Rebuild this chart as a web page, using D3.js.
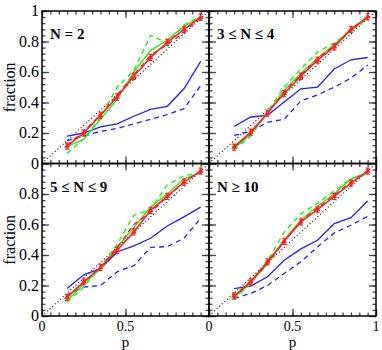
<!DOCTYPE html>
<html>
<head>
<meta charset="utf-8">
<script src="https://cdn.jsdelivr.net/npm/d3@7"></script>
<style>
  body { margin: 0; background: #fff; }
  svg text { font-family: "Liberation Serif", "DejaVu Serif", serif; }
</style>
</head>
<body>
<div id="chart"></div>
<script>
// bin centres of p
const pValues = [0.15, 0.25, 0.35, 0.45, 0.55, 0.65, 0.75, 0.85, 0.95];
const panelLabels = ["N = 2", "3 \u2264 N \u2264 4", "5 \u2264 N \u2264 9", "N \u2265 10"];

// one row per panel
const redSolid = [
  [0.114, 0.200, 0.316, 0.436, 0.572, 0.695, 0.794, 0.880, 0.959],
  [0.107, 0.206, 0.330, 0.460, 0.572, 0.678, 0.765, 0.880, 0.962],
  [0.122, 0.224, 0.318, 0.431, 0.551, 0.693, 0.784, 0.878, 0.950],
  [0.131, 0.224, 0.355, 0.490, 0.617, 0.697, 0.784, 0.871, 0.950]
];
const redDashed = [
  [0.120, 0.210, 0.320, 0.450, 0.580, 0.710, 0.780, 0.860, 0.960],
  [0.110, 0.200, 0.330, 0.470, 0.580, 0.690, 0.770, 0.870, 0.960],
  [0.120, 0.220, 0.320, 0.450, 0.600, 0.680, 0.780, 0.880, 0.950],
  [0.130, 0.230, 0.340, 0.490, 0.620, 0.710, 0.790, 0.880, 0.950]
];
const greenSolid = [
  [0.110, 0.160, 0.290, 0.420, 0.600, 0.740, 0.810, 0.900, 0.960],
  [0.100, 0.190, 0.330, 0.480, 0.590, 0.690, 0.780, 0.880, 0.960],
  [0.100, 0.210, 0.310, 0.450, 0.580, 0.714, 0.800, 0.900, 0.940],
  [0.120, 0.220, 0.340, 0.500, 0.630, 0.720, 0.800, 0.900, 0.940]
];
const greenDashed = [
  [0.066, 0.160, 0.300, 0.500, 0.610, 0.840, 0.790, 0.910, 0.960],
  [0.090, 0.180, 0.340, 0.500, 0.620, 0.730, 0.790, 0.870, 0.950],
  [0.090, 0.190, 0.320, 0.470, 0.660, 0.700, 0.860, 0.920, 0.940],
  [0.110, 0.210, 0.360, 0.550, 0.670, 0.740, 0.820, 0.900, 0.930]
];
const blueSolid = [
  [0.180, 0.200, 0.240, 0.260, 0.310, 0.355, 0.375, 0.490, 0.670],
  [0.243, 0.305, 0.316, 0.403, 0.490, 0.500, 0.620, 0.680, 0.695],
  [0.180, 0.270, 0.310, 0.420, 0.460, 0.510, 0.590, 0.650, 0.714],
  [0.180, 0.196, 0.257, 0.366, 0.440, 0.497, 0.606, 0.645, 0.754]
];
const blueDashed = [
  [0.150, 0.180, 0.210, 0.230, 0.260, 0.290, 0.320, 0.360, 0.510],
  [0.184, 0.210, 0.270, 0.290, 0.410, 0.450, 0.500, 0.560, 0.645],
  [0.137, 0.190, 0.200, 0.290, 0.330, 0.450, 0.455, 0.510, 0.640],
  [0.115, 0.148, 0.200, 0.279, 0.355, 0.453, 0.545, 0.595, 0.654]
];
const xMajor = [0, 0.5, 1];
const yMajor = [0, 0.2, 0.4, 0.6, 0.8, 1];

const W = 382, H = 350;
const padLeft = 42, padTop = 11, pw = 167, ph = 152.5;

const svg = d3.select("#chart").append("svg")
  .attr("width", W).attr("height", H);

const series = [
  { data: blueDashed, color: "#1f1fff", dash: "5,4", width: 1.3 },
  { data: blueSolid, color: "#1f1fff", dash: null, width: 1.3 },
  { data: greenDashed, color: "#22ee22", dash: "5,4", width: 1.4 },
  { data: greenSolid, color: "#22ee22", dash: null, width: 1.4 },
  { data: redDashed, color: "#ff2020", dash: "5,4", width: 1.4 },
  { data: redSolid, color: "#ff2020", dash: null, width: 1.6 }
];

panelLabels.forEach(function(label, k) {
  let col = k % 2, row = Math.floor(k / 2);
  let x0 = padLeft + col * pw, y0 = padTop + row * ph;
  let x = d3.scaleLinear().domain([0, 1]).range([x0, x0 + pw]);
  let y = d3.scaleLinear().domain([0, 1]).range([y0 + ph, y0]);
  let g = svg.append("g");

  // diagonal
  g.append("path")
    .attr("d", d3.line()([[x(0), y(0)], [x(1), y(1)]]))
    .attr("stroke", "#000").attr("stroke-width", 1.1)
    .attr("stroke-dasharray", "1,2.5").attr("fill", "none");

  let line = d3.line()
    .x(function(d, i) { return x(pValues[i]); })
    .y(function(d) { return y(d); });

  series.forEach(function(s) {
    g.append("path")
      .attr("d", line(s.data[k]))
      .attr("fill", "none")
      .attr("stroke", s.color)
      .attr("stroke-width", s.width)
      .attr("stroke-dasharray", s.dash);
  });

  // red error bars + markers
  let err = g.selectAll("g.err").data(redSolid[k]).enter().append("g");
  err.append("path")
    .attr("d", function(d, i) {
      let px = x(pValues[i]);
      return "M" + (px - 2) + "," + y(d + 0.02) + "H" + (px + 2) +
             "M" + px + "," + y(d + 0.02) + "V" + y(d - 0.02) +
             "M" + (px - 2) + "," + y(d - 0.02) + "H" + (px + 2);
    })
    .attr("stroke", "#ff2020").attr("stroke-width", 1.2).attr("fill", "none");
  err.append("path")
    .attr("d", d3.symbol().type(d3.symbolTriangle).size(14))
    .attr("transform", function(d, i) { return "translate(" + x(pValues[i]) + "," + y(d) + ")"; })
    .attr("fill", "#ff2020");

  // inward ticks on all four sides
  let minorX = d3.range(0, 1.0001, 0.05), minorY = d3.range(0, 1.0001, 0.04);
  let ax = [
    [d3.axisBottom(x), y0 + ph, 0, minorX, xMajor],
    [d3.axisTop(x), y0, 0, minorX, xMajor],
    [d3.axisLeft(y), 0, x0, minorY, yMajor],
    [d3.axisRight(y), 0, x0 + pw, minorY, yMajor]
  ];
  ax.forEach(function(a) {
    [[a[3], 3.5], [a[4], 7]].forEach(function(t) {
      let axis = a[0].tickValues(t[0]).tickSize(-t[1]).tickFormat("");
      let ag = g.append("g")
        .attr("transform", "translate(" + a[2] + "," + a[1] + ")")
        .call(axis);
      ag.select(".domain").remove();
      ag.selectAll("line").attr("stroke", "#444").attr("stroke-width", 1.3);
    });
  });

  // frame
  g.append("rect")
    .attr("x", x0).attr("y", y0).attr("width", pw).attr("height", ph)
    .attr("fill", "none").attr("stroke", "#000").attr("stroke-width", 1.5);

  g.append("text")
    .attr("x", x0 + 8).attr("y", y0 + 28)
    .attr("font-size", 15).attr("font-weight", "bold")
    .text(label);

  // tick labels
  if (col === 0) {
    let yl = row === 0 ? yMajor : yMajor.slice(0, 5);
    g.selectAll("text.yl").data(yl).enter().append("text")
      .attr("x", x0 - 3).attr("y", function(d) { return y(d) + 5; })
      .attr("text-anchor", "end").attr("font-size", 16)
      .text(function(d) { return d3.format("~g")(d); });
    g.append("text")
      .attr("transform", "translate(" + 15 + "," + (y0 + ph / 2) + ") rotate(-90)")
      .attr("text-anchor", "middle").attr("font-size", 16)
      .text("fraction");
  }
  if (row === 1) {
    let xl = col === 0 ? xMajor.slice(0, 2) : xMajor;
    g.selectAll("text.xl").data(xl).enter().append("text")
      .attr("x", function(d) { return x(d); }).attr("y", y0 + ph + 15)
      .attr("text-anchor", "middle").attr("font-size", 14)
      .text(function(d) { return d3.format("~g")(d); });
    g.append("text")
      .attr("x", x(0.5)).attr("y", y0 + ph + 31)
      .attr("text-anchor", "middle").attr("font-size", 15)
      .text("p");
  }
});
</script>
</body>
</html>
